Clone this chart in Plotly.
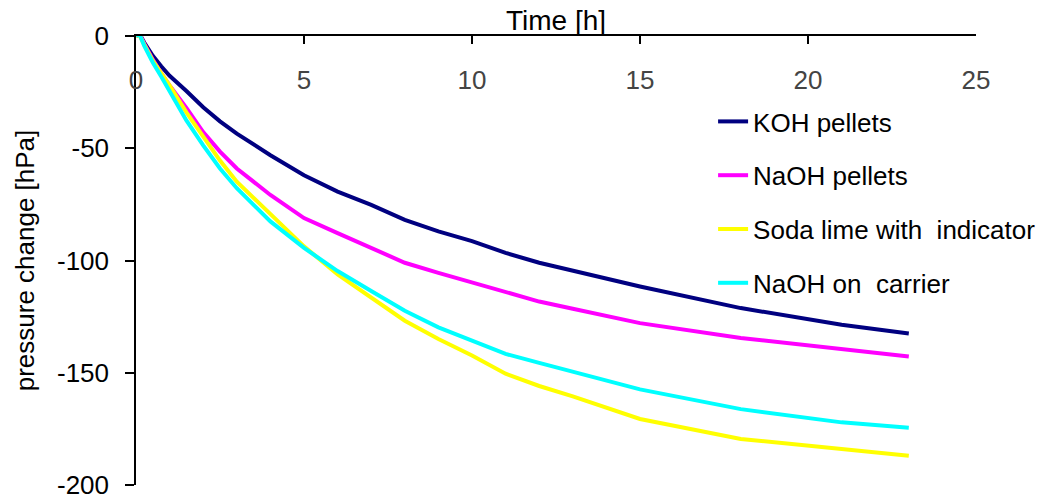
import plotly.graph_objects as go

# Time [h]
t_koh = [0, 0.1, 0.25, 0.5, 0.75, 1.0, 1.5, 2.0, 2.5, 3.0, 4.0, 5.0, 6.0, 7.0, 8.0, 9.0, 10.0, 11.0, 12.0, 13.0, 15.0, 18.0, 21.0, 23.0]
koh = [0, 1, -3.0, -8.8, -13.5, -17.7, -24.5, -31.7, -38.0, -43.5, -53.1, -62.0, -69.3, -75.2, -81.9, -87.0, -91.4, -96.6, -101.0, -104.5, -111.6, -121.2, -128.6, -132.5]

t_naoh = [0, 0.1, 0.25, 0.5, 0.75, 1.0, 1.5, 2.0, 2.5, 3.0, 4.0, 5.0, 6.0, 7.0, 8.0, 9.0, 10.0, 11.0, 12.0, 13.0, 15.0, 18.0, 21.0, 23.0]
naoh = [0, 1, -3.5, -10.5, -16.5, -22.0, -32.0, -42.8, -51.5, -59.0, -70.8, -81.1, -87.8, -94.4, -101.0, -105.5, -109.9, -114.3, -118.3, -121.5, -127.9, -134.5, -139.7, -142.8]

t_soda = [0, 0.1, 0.25, 0.5, 0.75, 1.0, 1.5, 2.0, 2.5, 3.0, 4.0, 5.0, 6.0, 7.0, 8.0, 9.0, 10.0, 11.0, 12.0, 13.0, 15.0, 18.0, 21.0, 23.0]
soda = [0, 0.5, -4.0, -11.0, -16.5, -22.0, -34.0, -45.0, -55.5, -64.9, -79.6, -93.7, -106.2, -116.5, -126.8, -135.0, -142.3, -150.4, -155.9, -160.5, -170.6, -179.5, -183.9, -187.0]

t_carrier = [0, 0.1, 0.25, 0.5, 0.75, 1.0, 1.5, 2.0, 2.5, 3.0, 4.0, 5.0, 6.0, 7.0, 8.0, 9.0, 10.0, 11.0, 12.0, 13.0, 15.0, 18.0, 21.0, 23.0]
carrier = [0, 0.8, -4.5, -11.8, -18.0, -24.3, -37.6, -48.7, -59.0, -67.8, -82.6, -94.4, -104.7, -113.6, -122.4, -129.8, -135.7, -141.6, -145.6, -149.5, -157.4, -166.2, -172.1, -174.5]

names = ["KOH pellets", "NaOH pellets", "Soda lime with  indicator", "NaOH on  carrier"]
colors = ["#000080", "#FF00FF", "#FFFF00", "#00FFFF"]

x_ticks = [0, 5, 10, 15, 20, 25]
y_ticks = [0, -50, -100, -150, -200]

FONT = "Arial, 'Liberation Sans', sans-serif"

fig = go.Figure()
series = [(t_koh, koh), (t_naoh, naoh), (t_soda, soda), (t_carrier, carrier)]
for i, ((tx, ty), name, col) in enumerate(zip(series, names, colors)):
    fig.add_trace(go.Scatter(
        x=tx, y=ty, mode="lines", name=name, legendgroup=f"g{i}",
        line=dict(color=col, width=4),
    ))

TOP, BOT = 36, 485  # plot area pixel rows
H = BOT - TOP

fig.update_layout(
    width=1047, height=501,
    margin=dict(l=136, r=71, t=TOP, b=501 - BOT, autoexpand=False),
    paper_bgcolor="white", plot_bgcolor="white",
    font=dict(family=FONT, size=26, color="black"),
    showlegend=True,
    legend=dict(
        x=0.687, xanchor="left", y=(BOT - 98) / H, yanchor="top",
        traceorder="grouped", tracegroupgap=17,
        bgcolor="rgba(0,0,0,0)", borderwidth=0,
        font=dict(family=FONT, size=26, color="black"),
    ),
    xaxis=dict(
        range=[0, 25], side="top", showline=True, linecolor="black", linewidth=2,
        tickvals=x_ticks, ticktext=[str(v) for v in x_ticks],
        ticks="inside", ticklen=8, tickwidth=1.5, tickcolor="black",
        ticklabelposition="inside", ticklabelstandoff=29, ticklabeloverflow="allow",
        showgrid=False, zeroline=False, automargin=False,
    ),
    yaxis=dict(
        range=[-200, 0], showline=True, linecolor="black", linewidth=1.5,
        tickvals=y_ticks, ticktext=[str(v) for v in y_ticks],
        ticks="outside", ticklen=9, tickwidth=1.5, tickcolor="black",
        ticklabelstandoff=11, ticklabeloverflow="allow",
        showgrid=False, zeroline=False, automargin=False,
        title=dict(text="pressure change [hPa]", font=dict(family=FONT, size=26), standoff=15),
    ),
    annotations=[dict(
        text="Time [h]", xref="paper", yref="paper", x=0.5, y=(BOT - 21) / H,
        xanchor="center", yanchor="middle", showarrow=False,
        font=dict(family=FONT, size=28, color="black"),
    )],
)

fig.write_html("out.html")
